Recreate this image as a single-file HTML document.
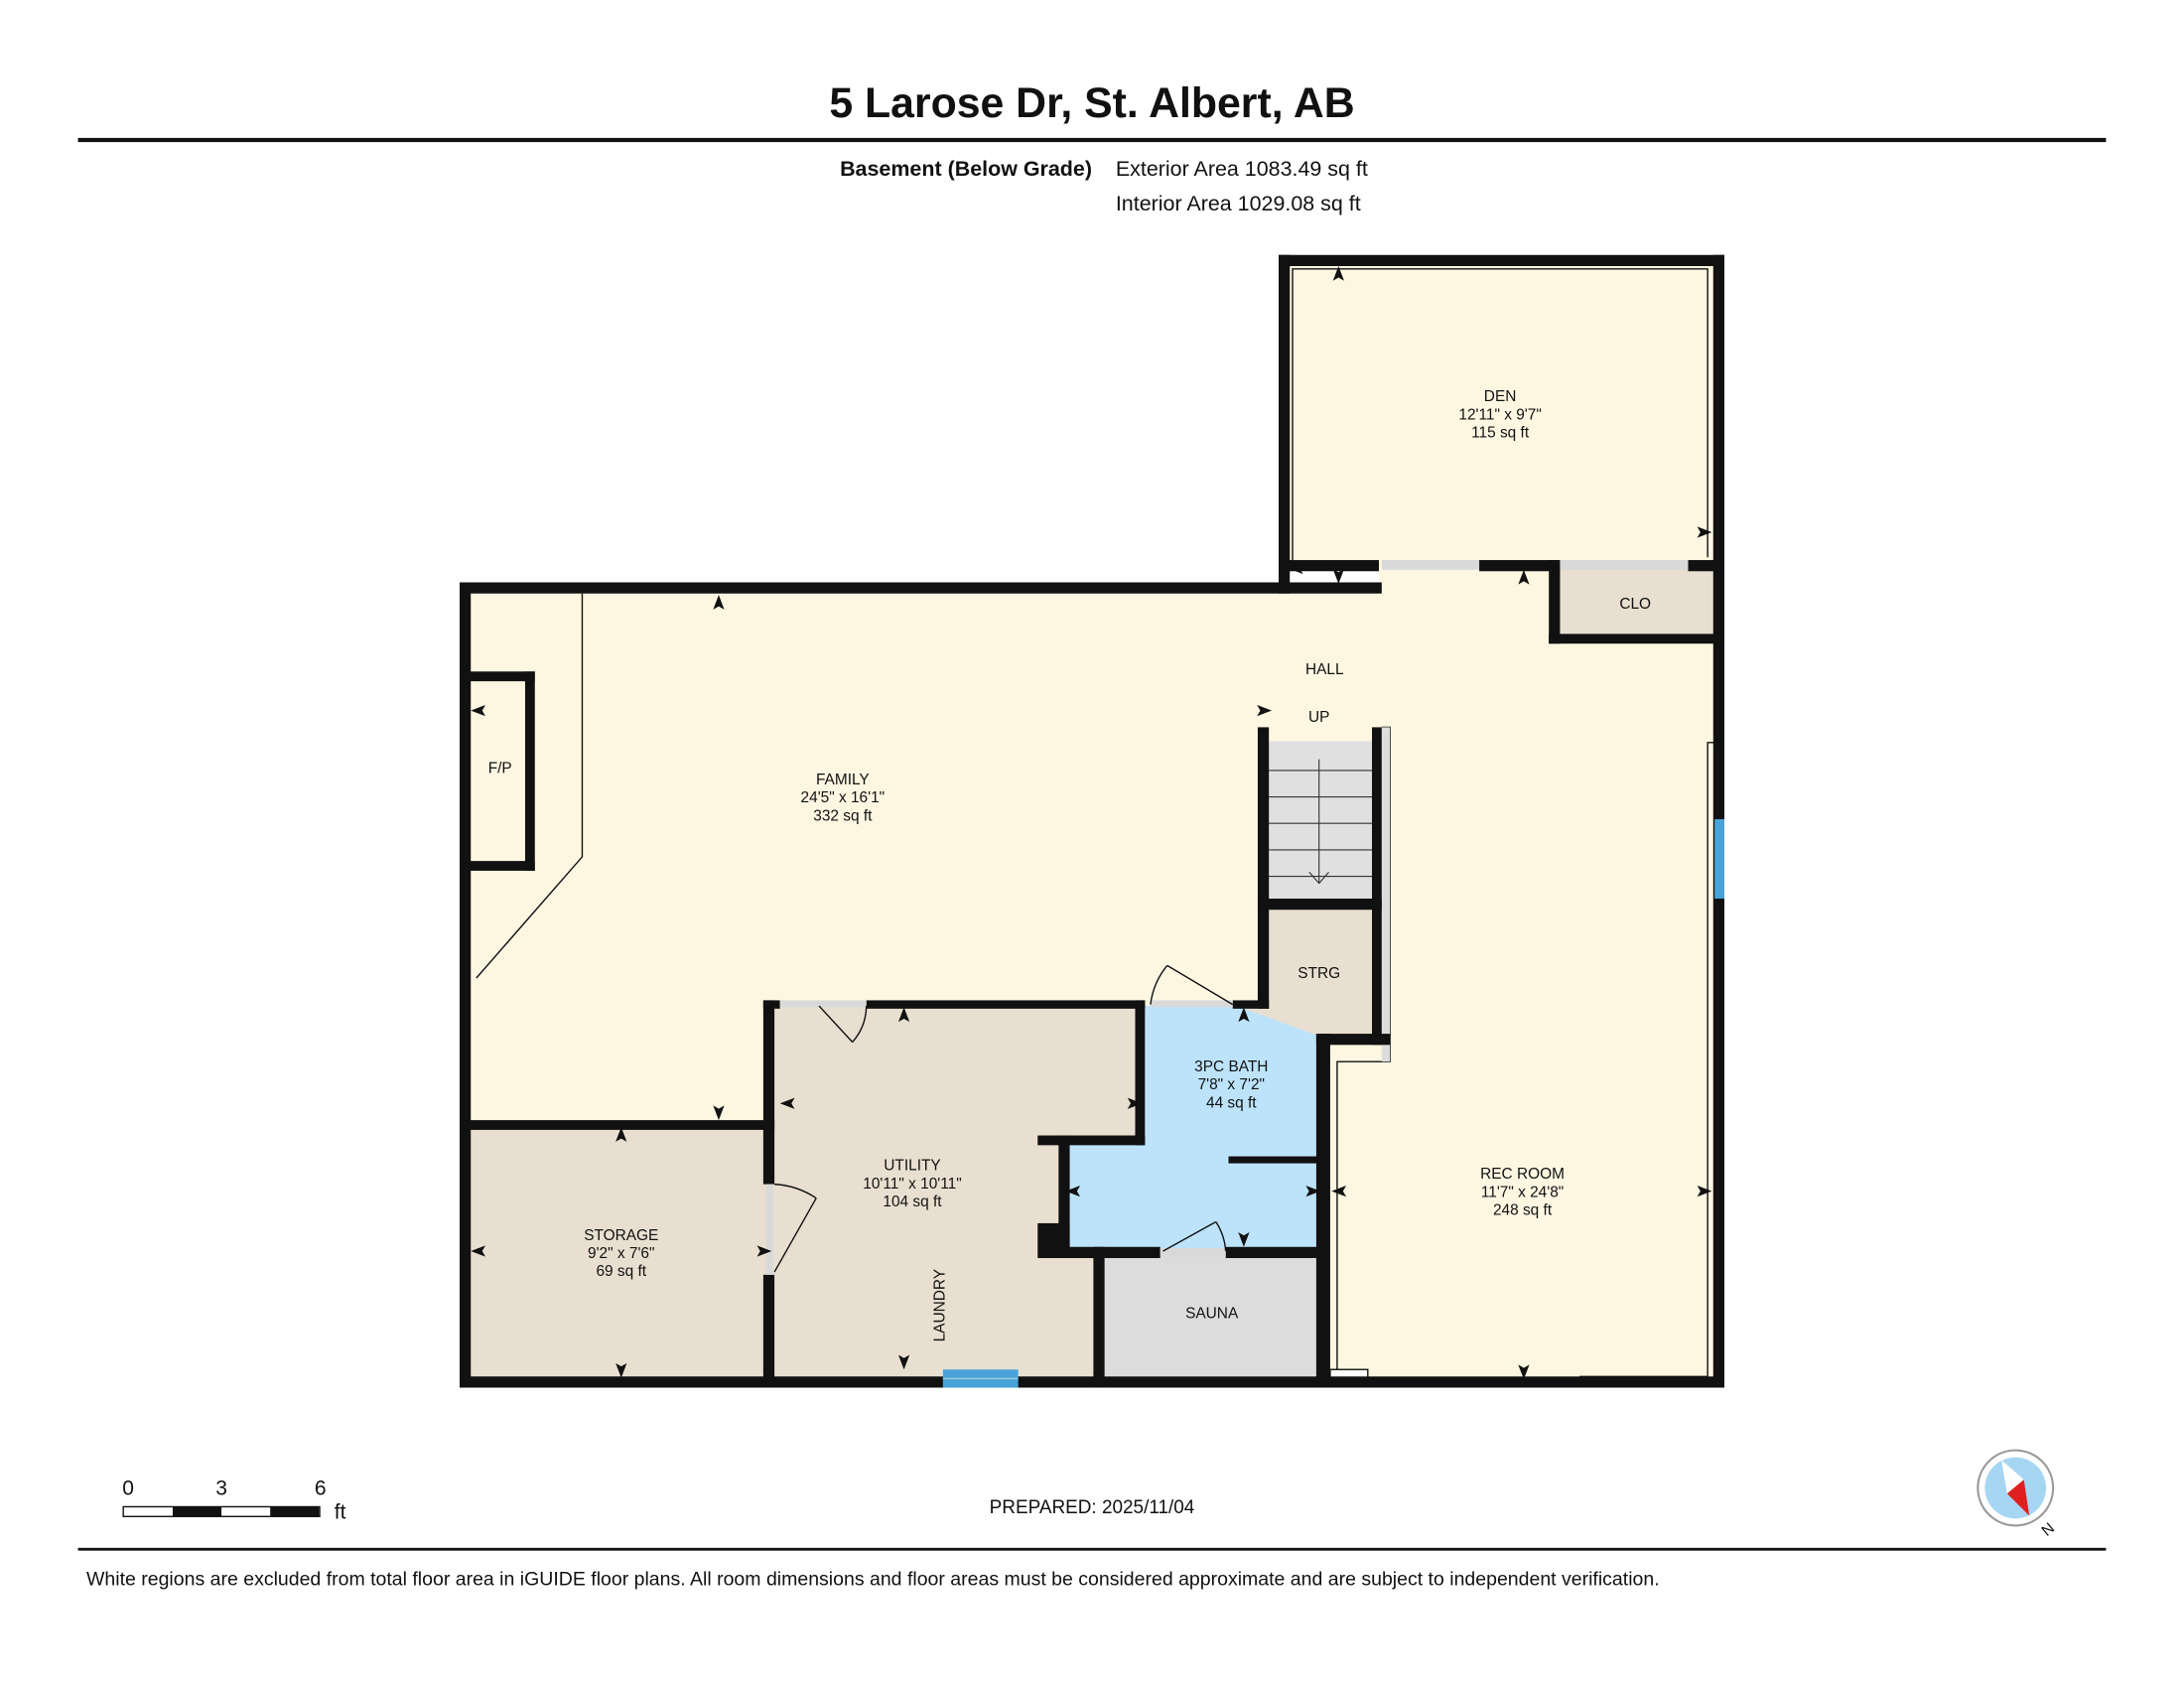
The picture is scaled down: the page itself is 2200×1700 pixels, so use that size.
<!DOCTYPE html>
<html><head><meta charset="utf-8"><style>
html,body{margin:0;padding:0;background:#fff}
svg{display:block}
text{font-family:"Liberation Sans",sans-serif;fill:#111}
</style></head><body>
<svg width="2200" height="1700" viewBox="0 0 1568 1211.6" preserveAspectRatio="none" xmlns="http://www.w3.org/2000/svg">
<defs><path id="a" d="M0,-7 L4,3.5 L0,1.2 L-4,3.5Z" fill="#111"/></defs>
<rect width="1568" height="1212" fill="#fff"/>
<text x="784" y="84" font-size="30.5" font-weight="bold" text-anchor="middle">5 Larose Dr, St. Albert, AB</text>
<rect x="56" y="99" width="1456" height="3" fill="#111"/>
<text x="784" y="126" font-size="15.3" font-weight="bold" text-anchor="end">Basement (Below Grade)</text>
<text x="801" y="126" font-size="15.3">Exterior Area 1083.49 sq ft</text>
<text x="801" y="151" font-size="15.3">Interior Area 1029.08 sq ft</text>

<polygon points="330,420 990,420 990,405 1120,405 1120,462 1234,462 1234,992 330,992" fill="#fdf7e2"/>
<rect x="922" y="187" width="312" height="220" fill="#fdf7e2"/>
<rect x="1118" y="408" width="114" height="50" fill="#e8dfd0"/>
<rect x="336" y="808" width="216" height="182" fill="#e8dfd0"/>
<polygon points="552,720 818,720 818,818 764,818 764,898 788,898 788,990 552,990" fill="#e8dfd0"/>
<polygon points="822,722 888,722 948,742 948,898 766,898 766,820 822,820" fill="#bde3fb"/>
<rect x="790" y="900" width="158" height="88" fill="#dcdcdc"/>
<rect x="909" y="532" width="78" height="115" fill="#e0e0e0"/>
<polygon points="909,650 987,650 987,744 948,744 888,722 909,722" fill="#e8dfd0"/>

<g stroke="#111" stroke-width="1" fill="none">
<polyline points="418,426 418,615 342,702"/>
<polyline points="928,402 928,193 1226,193 1226,400"/>
<polyline points="1226,988 1226,533 1232,533"/>
<polyline points="960,990 960,762 998,762 998,522 992,522"/>
<polyline points="1134,988 1226,988"/>
<rect x="955" y="983" width="27" height="7" fill="#fff"/>
</g>
<g stroke="#333" stroke-width="0.8">
<line x1="911" y1="553" x2="985" y2="553"/><line x1="911" y1="572" x2="985" y2="572"/>
<line x1="911" y1="591" x2="985" y2="591"/><line x1="911" y1="610" x2="985" y2="610"/>
<line x1="911" y1="629" x2="985" y2="629"/>
<line x1="947" y1="545" x2="947" y2="634"/>
<polyline points="940,626 947,634 954,626" fill="none"/>
</g>
<rect x="992" y="522" width="6" height="240" fill="#ddd"/>

<g fill="#111">
<rect x="330" y="418" width="662" height="8"/>
<rect x="330" y="418" width="8" height="578"/>
<rect x="330" y="988" width="908" height="8"/>
<rect x="1230" y="183" width="8" height="813"/>
<rect x="918" y="183" width="320" height="8"/>
<rect x="918" y="183" width="8" height="243"/>
<rect x="918" y="402" width="72" height="8"/>
<rect x="1062" y="402" width="58" height="8"/>
<rect x="1212" y="402" width="26" height="8"/>
<rect x="1112" y="402" width="8" height="60"/>
<rect x="1112" y="455" width="126" height="7"/>
<rect x="336" y="482" width="48" height="7"/>
<rect x="377" y="482" width="7" height="143"/>
<rect x="336" y="618" width="48" height="7"/>
<rect x="330" y="804" width="226" height="7"/>
<rect x="548" y="718" width="8" height="132"/>
<rect x="548" y="915" width="8" height="81"/>
<rect x="548" y="718" width="12" height="6"/>
<rect x="622" y="718" width="200" height="6"/>
<rect x="815" y="718" width="7" height="104"/>
<rect x="745" y="815" width="77" height="7"/>
<rect x="760" y="815" width="8" height="88"/>
<rect x="745" y="878" width="23" height="25"/>
<rect x="760" y="895" width="73" height="8"/>
<rect x="880" y="895" width="72" height="8"/>
<rect x="785" y="895" width="8" height="101"/>
<rect x="882" y="830" width="66" height="5"/>
<rect x="945" y="742" width="10" height="254"/>
<rect x="903" y="522" width="8" height="202"/>
<rect x="885" y="718" width="26" height="6"/>
<rect x="985" y="522" width="7" height="228"/>
<rect x="903" y="645" width="89" height="8"/>
<rect x="945" y="742" width="53" height="8"/>
</g>
<g fill="#d9d9d9">
<rect x="992" y="402" width="70" height="7"/>
<rect x="1120" y="402" width="92" height="7"/>
<rect x="560" y="718" width="62" height="5"/>
<rect x="826" y="718" width="59" height="5"/>
<rect x="550" y="850" width="5" height="65"/>
<rect x="833" y="896" width="47" height="6"/>
</g>
<rect x="677" y="983" width="54" height="13" fill="#4aa3d8"/>
<line x1="677" y1="989.5" x2="731" y2="989.5" stroke="#9cd" stroke-width="1"/>
<rect x="1231" y="588" width="7" height="57" fill="#4aa3d8"/>
<g stroke="#111" stroke-width="1" fill="none">
<line x1="588" y1="722" x2="612" y2="748"/><path d="M612,748 A40,40 0 0 0 622,722"/>
<line x1="885" y1="721" x2="838" y2="693"/><path d="M838,693 A55,55 0 0 0 826,721"/>
<line x1="556" y1="913" x2="586" y2="860"/><path d="M586,860 A60,60 0 0 0 556,850"/>
<line x1="835" y1="898" x2="873" y2="877"/><path d="M873,877 A45,45 0 0 1 880,898"/>
</g>

<use href="#a" transform="translate(516,434)"/>
<use href="#a" transform="translate(516,797) rotate(180)"/>
<use href="#a" transform="translate(345,510) rotate(-90)"/>
<use href="#a" transform="translate(906,510) rotate(90)"/>
<use href="#a" transform="translate(961,198)"/>
<use href="#a" transform="translate(961,412) rotate(180)"/>
<use href="#a" transform="translate(932,408) rotate(-90)"/>
<use href="#a" transform="translate(1222,382) rotate(90)"/>
<use href="#a" transform="translate(1094,416)"/>
<use href="#a" transform="translate(893,730)"/>
<use href="#a" transform="translate(893,888) rotate(180)"/>
<use href="#a" transform="translate(772,855) rotate(-90)"/>
<use href="#a" transform="translate(941,855) rotate(90)"/>
<use href="#a" transform="translate(963,855) rotate(-90)"/>
<use href="#a" transform="translate(1222,855) rotate(90)"/>
<use href="#a" transform="translate(1094,983) rotate(180)"/>
<use href="#a" transform="translate(649,730)"/>
<use href="#a" transform="translate(649,976) rotate(180)"/>
<use href="#a" transform="translate(567,792) rotate(-90)"/>
<use href="#a" transform="translate(813,792) rotate(90)"/>
<use href="#a" transform="translate(446,816)"/>
<use href="#a" transform="translate(446,982) rotate(180)"/>
<use href="#a" transform="translate(345,898) rotate(-90)"/>
<use href="#a" transform="translate(547,898) rotate(90)"/>

<g font-size="11" text-anchor="middle">
<text x="1077" y="288">DEN</text><text x="1077" y="301">12'11" x 9'7"</text><text x="1077" y="314">115 sq ft</text>
<text x="1174" y="437">CLO</text>
<text x="951" y="484">HALL</text>
<text x="947" y="518">UP</text>
<text x="359" y="555">F/P</text>
<text x="605" y="563">FAMILY</text><text x="605" y="576">24'5" x 16'1"</text><text x="605" y="589">332 sq ft</text>
<text x="947" y="702">STRG</text>
<text x="884" y="769">3PC BATH</text><text x="884" y="782">7'8" x 7'2"</text><text x="884" y="795">44 sq ft</text>
<text x="655" y="840">UTILITY</text><text x="655" y="853">10'11" x 10'11"</text><text x="655" y="866">104 sq ft</text>
<text x="1093" y="846">REC ROOM</text><text x="1093" y="859">11'7" x 24'8"</text><text x="1093" y="872">248 sq ft</text>
<text x="446" y="890">STORAGE</text><text x="446" y="903">9'2" x 7'6"</text><text x="446" y="916">69 sq ft</text>
<text x="870" y="946">SAUNA</text>
<text transform="translate(678,937) rotate(-90)">LAUNDRY</text>
</g>

<g font-size="15">
<text x="92" y="1073" text-anchor="middle">0</text>
<text x="159" y="1073" text-anchor="middle">3</text>
<text x="230" y="1073" text-anchor="middle">6</text>
<text x="240" y="1090">ft</text>
</g>
<rect x="88.5" y="1081.5" width="141" height="7" fill="#fff" stroke="#111"/>
<rect x="124" y="1081.5" width="35" height="7" fill="#111"/>
<rect x="194" y="1081.5" width="35" height="7" fill="#111"/>
<text x="784" y="1086" font-size="13.5" text-anchor="middle">PREPARED: 2025/11/04</text>
<circle cx="1447" cy="1068" r="27" fill="#fff" stroke="#999" stroke-width="1.5"/>
<circle cx="1447" cy="1068" r="22" fill="#a7d6f3"/>
<polygon points="1457,1088 1441,1072 1453,1062" fill="#e02020"/>
<polygon points="1437,1048 1453,1062 1441,1072" fill="#fff"/>
<text x="1467" y="1104" font-size="11" transform="rotate(-40 1467 1100)">N</text>
<rect x="56" y="1111" width="1456" height="2" fill="#111"/>
<text x="62" y="1138" font-size="13.9">White regions are excluded from total floor area in iGUIDE floor plans. All room dimensions and floor areas must be considered approximate and are subject to independent verification.</text>
</svg>
</body></html>
